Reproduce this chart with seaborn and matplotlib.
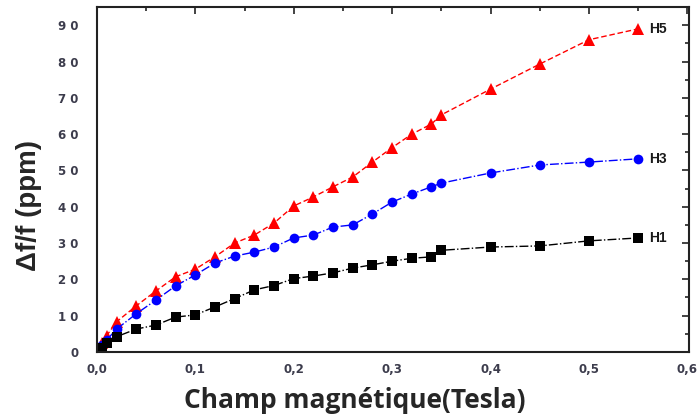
import matplotlib
matplotlib.use('Agg')
import matplotlib.pyplot as plt
from matplotlib.ticker import MultipleLocator, FuncFormatter
import seaborn as sns
import pandas as pd

champ = [0.0, 0.005, 0.01, 0.02, 0.04, 0.06, 0.08, 0.10, 0.12, 0.14, 0.16, 0.18, 0.20,
         0.22, 0.24, 0.26, 0.28, 0.30, 0.32, 0.34, 0.35, 0.40, 0.45, 0.50, 0.55]
h5 = [0.5, 2.5, 4.5, 8.3, 12.7, 16.8, 20.7, 22.8, 26.2, 30.0, 32.2, 35.5, 40.2,
      42.7, 45.5, 48.2, 52.3, 56.3, 60.0, 62.8, 65.3, 72.4, 79.3, 86.0, 89.0]
h3 = [0.3, 1.9, 3.3, 6.3, 10.5, 14.3, 18.2, 21.2, 24.5, 26.4, 27.5, 28.9, 31.4,
      32.2, 34.4, 35.0, 38.0, 41.3, 43.5, 45.5, 46.5, 49.3, 51.5, 52.3, 53.2]
h1 = [0.2, 1.2, 2.5, 4.2, 6.3, 7.4, 9.6, 10.2, 12.4, 14.7, 17.1, 18.3, 20.2,
      20.9, 21.8, 23.1, 24.0, 25.0, 25.8, 26.2, 28.0, 28.9, 29.2, 30.6, 31.4]
labels = ['H1', 'H3', 'H5']

df = pd.DataFrame({'champ': champ, 'H1': h1, 'H3': h3, 'H5': h5})

sns.set_style('white')
fig = plt.figure(figsize=(6.97, 4.16), dpi=100)
ax = fig.add_axes([0.139, 0.154, 0.850, 0.829])

styles = {
    'H5': dict(color='#ff0000', marker='^', markersize=8.5, linestyle=(0, (4, 2)), lw=1.0),
    'H3': dict(color='#0000ff', marker='o', markersize=7, linestyle='-.', lw=1.0),
    'H1': dict(color='#000000', marker='s', markersize=6.5, linestyle='-.', lw=1.0),
}
for name in ['H5', 'H3', 'H1']:
    st = styles[name]
    sns.lineplot(data=df, x='champ', y=name, ax=ax, color=st['color'], marker=st['marker'],
                 markersize=st['markersize'], markeredgewidth=0, linestyle=st['linestyle'],
                 linewidth=st['lw'], sort=False, estimator=None)
    ax.text(df['champ'].iloc[-1] + 0.011, df[name].iloc[-1], name, fontsize=10,
            fontweight='bold', color='#1a1a1a', va='center', ha='left',
            family='Liberation Sans')

ax.set_xlim(0, 0.602)
ax.set_ylim(0, 95)
ax.xaxis.set_major_locator(MultipleLocator(0.1))
ax.xaxis.set_minor_locator(MultipleLocator(0.05))
ax.yaxis.set_major_locator(MultipleLocator(10))
ax.yaxis.set_minor_locator(MultipleLocator(5))
ax.xaxis.set_major_formatter(FuncFormatter(lambda v, p: f'{v:.1f}'.replace('.', ',')))
ax.yaxis.set_major_formatter(FuncFormatter(lambda v, p: ' '.join(f'{v:.0f}')))

ax.tick_params(which='both', direction='in', top=True, right=True, width=1.2,
               color='#222222')
ax.tick_params(which='major', length=5, labelsize=8.5, labelcolor='#3c3c4c')
ax.tick_params(axis='x', which='major', pad=8)
ax.tick_params(axis='y', which='major', pad=13)
ax.tick_params(which='minor', length=3)
for lab in ax.get_xticklabels() + ax.get_yticklabels():
    lab.set_fontweight('bold')
for sp in ax.spines.values():
    sp.set_linewidth(1.5)
    sp.set_color('#222222')

ax.set_xlabel('Champ magnétique(Tesla)', fontsize=19, fontweight='bold',
              family='Open Sans')
ax.set_ylabel('Δf/f (ppm)', fontsize=20, fontweight='bold', family='Liberation Sans')
ax.xaxis.set_label_coords(0.436, -0.14)
ax.yaxis.set_label_coords(-0.115, 0.426)
ax.xaxis.label.set_va('center')
ax.yaxis.label.set_va('center')

fig.savefig('out.png', dpi=100)
